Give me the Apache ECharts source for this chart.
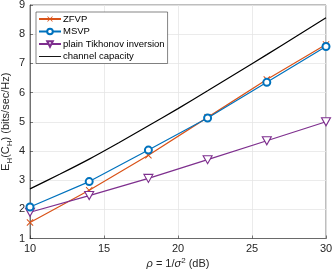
<!DOCTYPE html>
<html><head><meta charset="utf-8">
<script src="https://cdn.jsdelivr.net/npm/echarts@6/dist/echarts.min.js"></script>
<style>html,body{margin:0;padding:0;background:#fff}#c{width:332px;height:272px}</style>
</head><body><div id="c"></div>
<script>
const snrPoints = [10, 14, 18, 22, 26, 30];
const zfvp = [1.55, 2.65, 3.85, 5.15, 6.45, 7.65];
const msvp = [2.08, 2.95, 4.03, 5.13, 6.35, 7.58];
const tikhonov = [1.90, 2.47, 3.06, 3.70, 4.35, 5.00];
const capSnr = [10, 12, 14, 16, 18, 20, 22, 24, 26, 28, 30];
const capacity = [2.70, 3.20, 3.72, 4.28, 4.86, 5.45, 6.06, 6.68, 7.30, 7.93, 8.56];
const xTicks = [10, 15, 20, 25, 30];
const yTicks = [1, 2, 3, 4, 5, 6, 7, 8, 9];

const pair = (xs, ys) => xs.map((x, i) => [x, ys[i]]);
const FONT = 'Liberation Sans';
const cX = 'path://M1,0 L5,4 L9,0 L10,1 L6,5 L10,9 L9,10 L5,6 L1,10 L0,9 L4,5 L0,1 Z';
const tri = 'path://M0,0 L10,0 L5,9 Z';
const chart = echarts.init(document.getElementById('c'), null, {renderer: 'canvas'});
chart.setOption({
  animation: false,
  textStyle: {fontFamily: FONT},
  grid: {left: 30, right: 6, top: 5, bottom: 33.5, containLabel: false, outerBoundsMode: 'none',
         show: true, borderColor: '#262626', borderWidth: 0.6, backgroundColor: 'transparent'},
  legend: {
    left: 36, top: 12, orient: 'vertical', itemGap: 2.5, itemWidth: 22, itemHeight: 7,
    backgroundColor: '#fff', borderColor: '#333', borderWidth: 0.6, padding: [2, 3, 2, 2],
    textStyle: {fontSize: 9.5, color: '#000', fontFamily: FONT, padding: [0, 0, 0, -3]},
    data: ['ZFVP', 'MSVP', 'plain Tikhonov inversion',
           {name: 'channel capacity', icon: 'path://M0,4.5 L24,4.5 L24,5.5 L0,5.5 Z'}]
  },
  xAxis: {
    type: 'value', min: xTicks[0], max: xTicks[xTicks.length - 1], interval: 5,
    name: '{i|ρ} = 1/{i|σ}{sup|2} (dB)', nameLocation: 'middle', nameGap: 18, nameMoveOverlap: false,
    nameTextStyle: {fontSize: 11, color: '#262626', rich: {i: {fontStyle: 'italic', fontSize: 11}, sup: {fontSize: 8, verticalAlign: 'top', padding: [0, 0, 6, 0]}}},
    axisLine: {show: true, lineStyle: {color: '#262626', width: 0.6}},
    axisTick: {inside: true, length: 3, lineStyle: {color: '#262626', width: 0.6}},
    axisLabel: {fontSize: 11, color: '#262626', margin: 5},
    splitLine: {show: true, lineStyle: {color: '#e6e6e6', width: 0.8}}
  },
  yAxis: {
    type: 'value', min: yTicks[0], max: yTicks[yTicks.length - 1], interval: 1,
    name: '{a|E}{s|H}{a|(C}{s|H}{a|) (bits/sec/Hz)}', nameLocation: 'middle', nameGap: 16, nameMoveOverlap: false,
    nameTextStyle: {fontSize: 11, color: '#262626', lineHeight: 14,
      rich: {a: {fontSize: 11, lineHeight: 14, verticalAlign: 'top', color: '#262626'},
             s: {fontSize: 8, lineHeight: 14, verticalAlign: 'bottom', color: '#262626'}}},
    axisLine: {show: true, lineStyle: {color: '#262626', width: 0.6}},
    axisTick: {inside: true, length: 3, lineStyle: {color: '#262626', width: 0.6}},
    axisLabel: {fontSize: 11, color: '#262626', margin: 5},
    splitLine: {show: true, lineStyle: {color: '#e6e6e6', width: 0.8}}
  },
  series: [
    {name: 'ZFVP', type: 'line', data: pair(snrPoints, zfvp), symbol: cX, symbolSize: 7,
     lineStyle: {color: '#D95319', width: 1.2}, itemStyle: {color: '#D95319'}, z: 3},
    {name: 'MSVP', type: 'line', data: pair(snrPoints, msvp), symbol: 'emptyCircle', symbolSize: 7,
     lineStyle: {color: '#0072BD', width: 1.2}, itemStyle: {color: '#0072BD', borderWidth: 1.1}, z: 4},
    {name: 'plain Tikhonov inversion', type: 'line', data: pair(snrPoints, tikhonov), symbol: tri, symbolSize: [9, 8],
     lineStyle: {color: '#7E2F8E', width: 1.2}, itemStyle: {color: '#fff', borderColor: '#7E2F8E', borderWidth: 1.1}, z: 3},
    {name: 'channel capacity', type: 'line', data: pair(capSnr, capacity), symbol: 'none', smooth: 0.3,
     lineStyle: {color: '#000', width: 1.2}, itemStyle: {color: '#000'}, z: 2}
  ]
});
</script></body></html>
